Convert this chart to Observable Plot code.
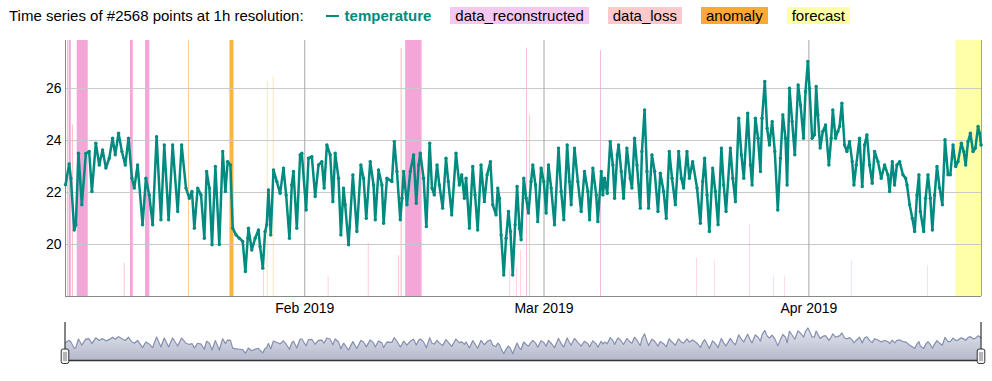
<!DOCTYPE html>
<html>
<head>
<meta charset="utf-8">
<script src="https://cdn.jsdelivr.net/npm/d3@7"></script>
<script src="https://cdn.jsdelivr.net/npm/@observablehq/plot@0.6"></script>
<style>
  html, body { margin: 0; padding: 0; background: #fff; }
  body { font-family: "Liberation Sans", Arial, Helvetica, sans-serif; }
  #wrap { position: relative; width: 992px; height: 381px; overflow: hidden; }
  #legend { position: absolute; left: 9px; top: 7px; height: 17px; font-size: 15px; line-height: 17px;
            display: flex; align-items: center; white-space: nowrap; color: #000; z-index: 2; }
  #legend .title { margin-right: 2px; }
  #legend .dash { display: inline-block; width: 13px; height: 2px; margin: 0 6px 0 20px; }
  #legend .name { font-weight: bold; }
  #legend .box { padding: 0 5px; margin-left: 19px; }
  #main { position: absolute; left: 0; top: 0; }
  #mini { position: absolute; left: 0; top: 322px; }
</style>
</head>
<body>
<div id="wrap">
  <div id="legend"></div>
  <div id="main"></div>
  <div id="mini"></div>
</div>
<script>
// ---------------- data ----------------
const legendTitle = "Time series of #2568 points at 1h resolution:";
const seriesNames = ["temperature", "data_reconstructed", "data_loss", "anomaly", "forecast"];
const startUTC = Date.UTC(2019, 0, 4, 0, 0);   // first hour of the series
const spanDays = 107.2;                         // visible span, days
const xTickDates = ["2019-02-01", "2019-03-01", "2019-04-01"];
const yTickValues = [20, 22, 24, 26];
const yRange = [18, 27.85];
const miniRange = [16.65, 28.8];

// temperature readings: [day offset from start, °C]
const temperature = [
  [0.00,22.30],[0.43,23.10],[0.63,22.55],[1.02,20.56],[1.21,20.76],[1.52,23.51],[1.91,21.53],[2.38,23.50],
  [2.77,23.58],[3.09,22.04],[3.55,23.90],[3.95,23.06],[4.34,23.64],[4.73,22.94],[5.12,23.32],[5.51,24.09],
  [5.82,23.45],[6.21,24.28],[6.60,23.58],[6.99,23.06],[7.38,24.09],[7.77,22.55],[8.05,22.17],[8.44,23.06],
  [9.02,20.76],[9.41,22.55],[9.80,21.91],[10.20,20.76],[10.66,24.15],[11.17,20.95],[11.56,23.83],[12.07,20.95],
  [12.54,23.83],[13.13,21.27],[13.59,23.83],[14.10,22.17],[14.49,21.78],[14.80,22.04],[15.08,20.63],[15.47,22.17],
  [15.86,21.91],[16.25,20.24],[16.52,22.81],[16.84,22.17],[17.15,19.99],[17.54,23.00],[18.00,20.00],[18.40,23.58],
  [18.71,22.04],[18.98,23.19],[19.30,23.06],[19.57,20.63],[19.96,20.37],[20.35,20.24],[20.74,20.12],[21.05,18.96],
  [21.33,20.24],[21.41,20.63],[21.80,19.79],[22.19,20.24],[22.58,20.56],[22.77,19.92],[23.09,19.09],[23.36,20.50],
  [23.55,20.76],[23.75,22.10],[24.02,20.37],[24.34,22.87],[24.73,22.42],[25.12,21.97],[25.51,22.94],[25.82,21.91],
  [26.21,20.24],[26.48,22.29],[26.68,22.81],[27.07,20.63],[27.46,23.45],[27.66,23.51],[28.16,21.33],[28.44,23.32],
  [28.83,23.38],[29.22,21.85],[29.61,23.06],[30.00,23.19],[30.27,22.17],[30.59,23.83],[30.98,23.45],[31.29,21.65],
  [31.56,23.51],[31.95,22.55],[32.23,20.37],[32.54,22.17],[32.73,21.53],[33.13,19.99],[33.63,22.68],[34.10,20.50],
  [34.57,23.06],[34.88,22.55],[35.20,21.01],[35.66,23.19],[36.05,22.29],[36.25,20.95],[36.64,22.87],[37.03,22.29],
  [37.23,20.82],[37.62,22.55],[38.20,22.42],[38.48,23.96],[38.79,22.81],[39.18,20.95],[39.38,21.78],[39.57,22.81],
  [39.96,21.53],[40.35,22.81],[40.74,23.45],[41.05,21.59],[41.33,23.06],[41.52,23.51],[41.91,22.55],[42.23,20.69],
  [42.62,23.90],[42.89,22.17],[43.16,21.91],[43.48,23.06],[43.75,22.29],[44.14,21.40],[44.53,23.32],[44.80,22.42],
  [45.20,21.14],[45.70,23.51],[46.09,22.29],[46.37,22.68],[46.68,21.78],[46.88,22.55],[47.27,20.63],[47.66,23.00],
  [47.93,21.91],[48.24,20.56],[48.63,23.06],[49.02,21.65],[49.34,22.68],[49.73,23.19],[50.00,21.53],[50.39,21.14],
  [50.59,22.17],[50.78,21.78],[50.98,20.37],[51.29,18.83],[51.56,20.24],[51.84,21.27],[52.07,20.50],[52.34,18.83],
  [52.62,20.76],[52.85,22.23],[53.13,20.63],[53.32,20.18],[53.63,22.55],[53.91,21.78],[54.18,21.21],[54.49,22.42],
  [54.69,23.06],[55.00,22.29],[55.27,20.88],[55.66,22.94],[55.98,22.42],[56.25,21.21],[56.52,23.06],[56.84,22.17],
  [57.23,20.76],[57.70,23.71],[58.01,22.04],[58.32,20.95],[58.71,23.83],[58.98,22.42],[59.18,21.53],[59.57,23.71],
  [59.96,22.42],[60.35,21.27],[60.74,22.81],[61.13,22.04],[61.33,20.95],[61.72,22.94],[62.11,21.91],[62.30,20.88],
  [62.70,22.81],[62.89,21.91],[63.09,22.55],[63.40,21.97],[63.75,23.96],[64.06,23.06],[64.26,21.78],[64.57,23.45],
  [64.73,23.83],[65.04,22.81],[65.31,21.78],[65.70,23.71],[66.09,22.55],[66.29,22.17],[66.60,24.09],[66.88,23.06],
  [67.27,21.40],[67.46,23.58],[67.77,25.18],[68.05,22.81],[68.24,21.40],[68.63,23.45],[68.95,22.81],[69.34,21.27],
  [69.61,22.74],[70.00,22.04],[70.31,21.01],[70.66,23.58],[70.98,22.55],[71.37,21.53],[71.76,23.58],[72.07,22.55],
  [72.34,22.17],[72.73,23.58],[73.01,22.55],[73.40,23.19],[73.91,22.17],[74.30,20.82],[74.57,22.42],[74.80,23.32],
  [75.08,21.91],[75.35,20.50],[75.74,22.94],[76.05,22.04],[76.37,20.76],[76.76,23.71],[77.03,22.29],[77.30,21.27],
  [77.81,23.71],[78.09,22.55],[78.40,21.65],[78.79,24.86],[79.10,23.45],[79.38,22.55],[79.84,25.05],[80.16,23.06],
  [80.35,22.29],[80.74,24.86],[81.05,24.09],[81.33,22.81],[81.52,24.86],[81.84,26.27],[82.11,24.47],[82.38,23.83],
  [82.70,24.73],[83.01,23.58],[83.36,21.33],[83.67,23.32],[83.95,24.99],[84.26,24.09],[84.45,22.29],[84.73,26.01],
  [85.04,24.73],[85.35,23.45],[85.74,26.14],[86.02,25.37],[86.37,24.09],[86.60,25.88],[86.88,27.04],[87.07,26.01],
  [87.38,24.09],[87.66,24.22],[87.85,26.08],[88.05,24.99],[88.32,23.71],[88.63,24.35],[88.95,24.60],[89.34,23.06],
  [89.61,24.09],[89.80,25.18],[90.12,24.09],[90.39,24.35],[90.59,24.54],[90.86,25.44],[91.17,23.83],[91.45,23.58],
  [91.76,23.96],[92.07,23.19],[92.27,22.29],[92.54,23.06],[92.93,24.09],[93.24,22.23],[93.52,23.83],[93.79,24.22],
  [94.10,23.06],[94.41,22.36],[94.69,23.58],[95.08,23.19],[95.47,22.55],[95.86,23.06],[96.25,22.68],[96.45,22.04],
  [96.76,23.19],[97.03,22.29],[97.30,23.06],[97.62,23.19],[98.01,22.68],[98.32,22.55],[98.48,22.29],[98.79,21.53],
  [99.10,21.01],[99.38,20.50],[99.65,21.91],[99.88,22.68],[100.04,21.27],[100.43,20.50],[100.66,21.78],[100.94,22.68],
  [101.21,21.78],[101.45,20.56],[101.72,21.91],[101.99,23.00],[102.30,22.17],[102.62,21.53],[102.93,24.03],[103.28,22.68],
  [103.55,22.68],[103.87,23.83],[104.18,23.00],[104.45,23.19],[104.84,23.90],[105.12,23.58],[105.35,23.06],[105.62,23.96],
  [105.90,24.28],[106.21,23.58],[106.48,23.71],[106.80,24.54],[106.98,24.28],[107.15,23.83]
];

// flagged periods: [start day, end day, level 0..1]
const reconstructedSpans = [
  [0.42,0.68,1],[1.37,2.66,1],[7.61,7.93,1],[9.37,9.88,1],[39.81,41.73,1],[53.97,54.06,0.97],[62.63,62.72,0.96]
];
const lossSpans = [
  [0.22,0.36,1],[0.80,0.94,0.67],[6.88,6.98,0.13],[23.21,23.29,0.10],[30.75,30.83,0.08],[35.44,35.53,0.21],
  [38.96,39.06,0.16],[39.27,39.41,0.97],[52.02,52.10,0.11],[52.80,52.88,0.11],[53.27,53.35,0.18],[54.33,54.43,0.71],
  [73.85,73.92,0.15],[75.98,76.04,0.14],[80.09,80.16,0.28],[82.90,82.96,0.08],[84.19,84.25,0.08],[92.03,92.09,0.14],
  [100.93,100.99,0.12]
];
const anomalySpans = [
  [14.43,14.50,1],[19.25,19.72,1],[23.63,23.67,0.84],[24.33,24.37,0.86]
];
const forecastSpans = [
  [104.22,107.2,1]
];

// ---------------- styles ----------------
const colors = {
  temperature: "#008b80",
  data_reconstructed: "#f5a6d8",
  data_loss: "#ffc0ca",
  anomaly: "#ffb347",
  forecast: "#ffffaa"
};
const legendBg = {
  data_reconstructed: "#f5c8f1",
  data_loss: "#ffc9cb",
  anomaly: "#ffa833",
  forecast: "#ffffa3"
};
const fontFamily = '"Liberation Sans", Arial, Helvetica, sans-serif';

// ---------------- build ----------------
const DAY = 864e5;
const toDate = d => new Date(startUTC + d * DAY);
const xDomain = [toDate(0), toDate(spanDays)];
const temps = temperature.map(([d, v]) => ({date: toDate(d), value: v}));
const spanSets = {
  data_reconstructed: reconstructedSpans,
  data_loss: lossSpans,
  anomaly: anomalySpans,
  forecast: forecastSpans
};
const bands = [];
for (const [type, spans] of Object.entries(spanSets)) {
  for (const [a, b, lvl] of spans) bands.push({type, x1: toDate(a), x2: toDate(b), level: lvl});
}
const xTicks = xTickDates.map(s => new Date(s + "T00:00:00Z"));

// legend
const legend = d3.select("#legend");
legend.append("span").attr("class", "title").text(legendTitle);
legend.append("span").attr("class", "dash").style("background", colors.temperature);
legend.append("span").attr("class", "name").style("color", colors.temperature).text(seriesNames[0]);
for (const name of seriesNames.slice(1)) {
  legend.append("span").attr("class", "box").style("background", legendBg[name]).text(name);
}

// main chart
const main = Plot.plot({
  width: 992,
  height: 320,
  marginLeft: 65,
  marginRight: 11,
  marginTop: 40,
  marginBottom: 24,
  style: {fontFamily, fontSize: "14px", color: "#000", background: "transparent", overflow: "visible"},
  x: {type: "utc", domain: xDomain, ticks: xTicks, tickFormat: d3.utcFormat("%b %Y"), tickSize: 0, tickPadding: 7, label: null},
  y: {domain: yRange, ticks: yTickValues, tickSize: 0, tickPadding: 4, label: null},
  marks: [
    Plot.rect(bands, {
      x1: "x1", x2: "x2",
      y1: () => yRange[0],
      y2: d => yRange[0] + d.level * (yRange[1] - yRange[0]),
      fill: d => colors[d.type]
    }),
    Plot.ruleY(yTickValues, {stroke: "#c8c8c8", strokeWidth: 1}),
    Plot.ruleX(xTicks, {stroke: "#a6a6a6", strokeWidth: 1}),
    Plot.ruleX([xDomain[0]], {stroke: "#8a8a8a", strokeWidth: 1}),
    Plot.ruleX([xDomain[1]], {stroke: "#a0a0a0", strokeWidth: 1}),
    Plot.ruleY([yRange[0]], {stroke: "#8a8a8a", strokeWidth: 1}),
    Plot.line(temps, {x: "date", y: "value", stroke: colors.temperature, strokeWidth: 2.5, strokeLinejoin: "round"}),
    Plot.dot(temps, {x: "date", y: "value", r: 1.7, fill: colors.temperature, stroke: null})
  ]
});
document.getElementById("main").append(main);

// range selector (mini overview)
const mini = Plot.plot({
  width: 992,
  height: 46,
  marginLeft: 65,
  marginRight: 11,
  marginTop: 0,
  marginBottom: 8,
  style: {background: "transparent", overflow: "visible"},
  x: {type: "utc", domain: xDomain, axis: null},
  y: {domain: miniRange, axis: null},
  marks: [
    Plot.area(temps, {x1: "date", y1: () => miniRange[0], y2: "value", fill: "url(#miniGrad)"}),
    Plot.line(temps, {x: "date", y: "value", stroke: "#8690b0", strokeWidth: 1.2}),
    Plot.ruleY([miniRange[0]], {stroke: "#333", strokeWidth: 1.5})
  ]
});
const msvg = d3.select(mini);
const grad = msvg.insert("defs", ":first-child").append("linearGradient")
  .attr("id", "miniGrad").attr("x1", 0).attr("y1", 0).attr("x2", 0).attr("y2", 1);
grad.append("stop").attr("offset", "0%").attr("stop-color", "#e4e6ee");
grad.append("stop").attr("offset", "100%").attr("stop-color", "#b3b9cc");
const sx = mini.scale("x");
const sy = mini.scale("y");
const yTop = sy.apply(miniRange[1]);
const yBot = sy.apply(miniRange[0]);
for (const d of xDomain) {
  const px = sx.apply(d);
  const h = msvg.append("g");
  h.append("line").attr("x1", px).attr("x2", px).attr("y1", yTop).attr("y2", yBot)
    .attr("stroke", "#333").attr("stroke-width", 1.2);
  h.append("rect").attr("x", px - 3.8).attr("y", yBot - 11).attr("width", 7.6).attr("height", 14.5)
    .attr("rx", 2).attr("fill", "#f6f6f6").attr("stroke", "#333").attr("stroke-width", 1);
  h.append("line").attr("x1", px - 1).attr("x2", px - 1).attr("y1", yBot - 8).attr("y2", yBot + 1)
    .attr("stroke", "#555").attr("stroke-width", 0.8);
  h.append("line").attr("x1", px + 1).attr("x2", px + 1).attr("y1", yBot - 8).attr("y2", yBot + 1)
    .attr("stroke", "#555").attr("stroke-width", 0.8);
}
document.getElementById("mini").append(mini);
</script>
</body>
</html>
